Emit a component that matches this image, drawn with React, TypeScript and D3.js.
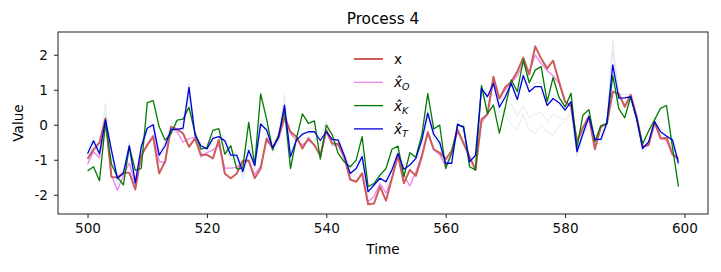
import React, { useRef, useEffect } from 'react';
import * as d3 from 'd3';

// time steps 500..599
const times: number[] = d3.range(500, 600);

const xTrue = [
  -0.98, -0.71, -0.51, 0.18, -1.49, -1.5, -1.37, -1.37, -1.85, -0.87,
  -0.58, -0.34, -1.39, -1.05, -0.06, -0.13, -0.25, -0.63, -0.39, -0.86,
  -0.86, -0.96, -0.43, -1.4, -1.53, -1.39, -1.03, -1.02, -1.53, -1.25,
  -0.39, -0.66, -0.34, 0.23, -0.2, -0.34, -0.68, -0.39, -0.58, -0.88,
  -0.15, -0.53, -0.55, -0.91, -1.56, -1.63, -1.39, -2.27, -2.25, -1.77,
  -2.17, -1.53, -0.87, -1.67, -1.29, -1.46, -0.91, -0.22, -0.7, -0.8,
  -0.98, -0.75, -0.15, -0.53, -0.91, -1.29, 0.15, 0.3, 1.37, 0.75,
  1.08, 1.23, 1.52, 1.92, 1.44, 2.24, 1.89, 1.61, 1.83, 1.23,
  0.66, 0.53, -0.46, -0.08, 0.24, -0.7, -0.05, 0.03, 0.94, 0.89,
  0.51, 0.85, 0.23, -0.63, -0.58, 0.08, -0.39, -0.37, -0.85, -0.96,
];

const xHatO = [
  -1.13, -0.77, -0.95, 0.1, -1.44, -1.87, -1.45, -1.1, -1.7, -0.93,
  -0.55, -0.3, -1.05, -1.09, -0.09, -0.2, -0.5, -0.4, -0.35, -0.92,
  -0.8, -0.72, -0.58, -1.24, -1.24, -1.22, -1.05, -1.05, -1.42, -1.18,
  -0.47, -0.63, -0.4, 0.15, -0.25, -0.44, -0.58, -0.44, -0.58, -0.91,
  -0.2, -0.58, -0.6, -0.96, -1.58, -1.63, -1.39, -2.2, -2.05, -1.68,
  -1.95, -1.53, -0.91, -1.44, -1.75, -1.35, -0.86, -0.18, -0.72, -0.85,
  -1.2, -0.8, -0.18, -0.55, -0.95, -1.25, 0.05, 0.3, 1.25, 0.75,
  1.0, 1.2, 1.4, 1.75, 1.5, 1.99, 1.75, 1.55, 1.4, 1.18,
  0.66, 0.55, -0.5, -0.1, 0.2, -0.66, -0.08, 0.03, 0.96, 0.88,
  0.55, 0.85, 0.2, -0.63, -0.55, 0.07, -0.38, -0.45, -0.85, -1.0,
];

const xHatK = [
  -1.32, -1.2, -1.6, 0.04, -1.12, -1.49, -1.72, -0.63, -1.3, -1.25,
  0.63, 0.69, -0.06, -0.44, -0.25, 0.13, 0.16, 0.5, -0.23, -0.7,
  -0.65, -0.16, -0.11, -0.84, -0.6, -1.26, -1.24, 0.07, -1.16, 0.88,
  0.16, -0.72, -0.3, 0.42, -1.25, -0.39, 0.31, 0.04, 0.11, -0.98,
  -0.01, -0.29, -0.82, -1.06, -1.2, -1.01, -0.34, -1.77, -1.68, -1.44,
  -1.25, -0.7, -0.61, -1.48, -0.8, -0.93, -0.29, 0.89, -0.12, -0.01,
  -1.25, -0.82, -0.01, -0.05, -1.2, -1.29, 1.12, 0.32, 0.56, -0.24,
  0.51, 1.28, 0.95, 1.85, 1.2, 1.56, 1.66, 0.66, 1.35, 0.78,
  0.51, 0.9, -0.65, 0.28, 0.43, -0.48, -0.03, 0.03, 1.4, 0.46,
  0.2, 0.8, 0.16, -0.55, -0.18, 0.14, 0.47, 0.55, -0.65, -1.77,
];

const xHatT = [
  -0.83, -0.46, -0.83, 0.14, -0.72, -1.53, -1.39, -0.6, -1.66, -0.63,
  -0.1, 0.0, -0.87, -0.6, -0.13, -0.13, -0.1, 1.07, -0.29, -0.6,
  -0.69, -0.39, -0.34, -0.46, -0.87, -0.87, -1.34, -0.73, -1.16, 0.02,
  -0.15, -0.66, -0.36, 0.56, -0.91, -0.44, -0.27, -0.2, -0.2, -0.45,
  -0.2, -0.42, -0.44, -0.87, -1.39, -1.25, -0.91, -1.91, -1.72, -1.53,
  -1.63, -1.29, -0.82, -1.27, -1.15, -0.96, -0.44, 0.33, -0.27, -0.51,
  -1.1, -1.1, 0.02, -0.08, -1.06, -0.87, 1.04, 0.8, 1.18, 0.5,
  0.8, 1.18, 0.72, 1.4, 0.94, 1.09, 1.09, 0.55, 0.75, 0.63,
  0.42, 0.66, -0.77, -0.25, 0.23, -0.42, -0.42, 0.05, 1.71, 0.76,
  0.77, 0.8, 0.18, -0.68, -0.49, 0.09, -0.2, -0.32, -0.44, -1.1,
];

// faint sample paths behind the estimates
const sampleA = [
  -0.7, -0.35, -0.75, 0.6, -0.8, -1.4, -1.3, -0.5, -1.55, -0.55,
  -0.05, 0.05, -0.75, -0.5, 0.05, 0.1, 0.0, 1.2, -0.2, -0.5,
  -0.55, -0.3, -0.2, -0.35, -0.75, -0.8, -1.2, -0.6, -1.05, 0.15,
  -0.05, -0.55, -0.25, 0.85, -0.8, -0.35, -0.15, -0.1, -0.1, -0.35,
  0.1, -0.3, -0.35, -0.75, -1.25, -1.15, -0.8, -1.8, -1.6, -1.4,
  -1.5, -1.15, -0.7, -1.15, -1.0, -0.85, -0.3, 0.45, -0.15, -0.4,
  -1.0, -1.0, 0.15, 0.05, -0.95, -0.75, 1.15, 0.9, 1.3, 0.6,
  0.9, 1.3, 0.85, 1.5, 1.05, 1.2, 1.2, 0.65, 0.85, 0.75,
  0.5, 0.8, -0.65, -0.15, 0.35, -0.3, -0.3, 0.15, 2.4, 0.9,
  0.85, 0.9, 0.3, -0.55, -0.4, 0.2, -0.1, -0.2, -0.35, -1.0,
];

const sampleB = [
  -0.95, -0.6, -0.95, -0.1, -0.7, -1.7, -1.5, -0.75, -1.8, -0.75,
  -0.25, -0.1, -1.0, -0.7, -0.25, -0.2, -0.2, 0.8, -0.4, -0.7,
  -0.8, -0.5, -0.45, -0.6, -1.0, -1.0, -1.55, -0.85, -1.3, -0.15,
  -0.3, -0.8, -0.5, 0.35, -1.05, -0.55, -0.4, -0.35, -0.35, -0.55,
  -0.3, -0.55, -0.55, -1.0, -1.55, -1.4, -1.05, -2.05, -1.85, -1.7,
  -1.8, -1.45, -0.95, -1.4, -1.3, -1.1, -0.6, 0.2, -0.4, -0.65,
  -1.25, -1.2, -0.1, -0.2, -1.2, -1.0, 0.85, 0.65, 0.9, 0.35,
  0.45, 0.6, 0.25, 0.55, 0.2, 0.3, 0.35, 0.1, 0.3, 0.2,
  0.15, 0.4, -0.9, -0.35, 0.1, -0.55, -0.55, -0.05, 1.5, 0.6,
  0.65, 0.7, 0.05, -0.8, -0.6, -0.05, -0.3, -0.45, -0.55, -1.2,
];

const sampleC = [
  -0.8, -0.5, -0.85, 0.3, -0.9, -1.6, -1.35, -0.65, -1.7, -0.7,
  -0.15, -0.05, -0.9, -0.55, -0.05, 0.0, -0.1, 0.95, -0.3, -0.65,
  -0.65, -0.4, -0.3, -0.5, -0.9, -0.9, -1.45, -0.75, -1.2, 0.05,
  -0.15, -0.7, -0.35, 0.6, -0.95, -0.45, -0.25, -0.25, -0.2, -0.45,
  -0.15, -0.45, -0.45, -0.9, -1.45, -1.3, -0.95, -1.95, -1.75, -1.55,
  -1.65, -1.3, -0.85, -1.3, -1.15, -1.0, -0.45, 0.3, -0.3, -0.55,
  -1.15, -1.1, 0.0, -0.1, -1.1, -0.9, 0.9, 0.55, 0.6, 0.2,
  0.3, 0.0, -0.15, 0.3, -0.15, -0.25, 0.0, -0.2, -0.3, -0.05,
  0.1, 0.3, -0.8, -0.3, 0.2, -0.45, -0.45, 0.05, 2.1, 0.8,
  0.75, 0.8, 0.15, -0.7, -0.5, 0.1, -0.2, -0.35, -0.45, -1.15,
];

const xTicks = [500, 520, 540, 560, 580, 600];
const yTicks = [-2, -1, 0, 1, 2];

function App() {
  const canvas = useRef<HTMLDivElement>(null);

  useEffect(() => {
    document.body.style.margin = '0';
    const width = 721;
    const height = 272;
    const m = { top: 32, right: 13, bottom: 58, left: 58 };
    const font = "'DejaVu Sans', sans-serif";

    d3.select(canvas.current).select('svg').remove();
    const svg = d3.select(canvas.current)
      .append('svg')
      .attr('width', width)
      .attr('height', height)
      .style('display', 'block')
      .style('font-family', font);

    svg.append('rect').attr('width', width).attr('height', height).attr('fill', 'white');

    // matplotlib style 5% margins
    const x = d3.scaleLinear().domain([495.05, 603.95]).range([m.left, width - m.right]);
    const y = d3.scaleLinear().domain([-2.55, 2.65]).range([height - m.bottom, m.top]);

    const line = d3.line<number>()
      .x((_, i) => x(times[i]))
      .y((d) => y(d));

    const plot = svg.append('g');

    [sampleA, sampleB, sampleC].forEach((s) => {
      plot.append('path')
        .attr('d', line(s))
        .attr('fill', 'none')
        .attr('stroke', '#b0c4de')
        .attr('stroke-opacity', 0.45)
        .attr('stroke-width', 0.8);
    });

    const series = [
      { data: xHatO, color: '#ee82ee', w: 1.3 },
      { data: xTrue, color: '#cd5c5c', w: 2 },
      { data: xHatK, color: '#007a00', w: 1.3 },
      { data: xHatT, color: '#0000dd', w: 1.3 },
    ];
    series.forEach((s) => {
      plot.append('path')
        .attr('d', line(s.data))
        .attr('fill', 'none')
        .attr('stroke', s.color)
        .attr('stroke-width', s.w)
        .attr('stroke-linejoin', 'round');
    });

    // frame
    svg.append('rect')
      .attr('x', m.left)
      .attr('y', m.top)
      .attr('width', width - m.left - m.right)
      .attr('height', height - m.top - m.bottom)
      .attr('fill', 'none')
      .attr('stroke', '#222')
      .attr('stroke-width', 1);

    const xAxis = svg.append('g')
      .attr('transform', `translate(0,${height - m.bottom})`)
      .call(d3.axisBottom(x).tickValues(xTicks).tickSize(4).tickPadding(5).tickFormat(d3.format('d')));
    xAxis.select('.domain').remove();
    xAxis.selectAll('text').attr('font-size', 13.6).attr('font-family', font).attr('fill', '#111');
    xAxis.selectAll('line').attr('stroke', '#222');

    const yAxis = svg.append('g')
      .attr('transform', `translate(${m.left},0)`)
      .call(d3.axisLeft(y).tickValues(yTicks).tickSize(4).tickPadding(6).tickFormat(d3.format('d')));
    yAxis.select('.domain').remove();
    yAxis.selectAll('text').attr('font-size', 13.6).attr('font-family', font).attr('fill', '#111')
      .text((d: any) => (d < 0 ? '-' + Math.abs(d) : String(d)));
    yAxis.selectAll('line').attr('stroke', '#222');

    svg.append('text')
      .attr('x', (m.left + width - m.right) / 2)
      .attr('y', 24)
      .attr('text-anchor', 'middle')
      .attr('font-size', 15.3)
      .text('Process 4');

    svg.append('text')
      .attr('x', (m.left + width - m.right) / 2)
      .attr('y', 254)
      .attr('text-anchor', 'middle')
      .attr('font-size', 13.6)
      .text('Time');

    svg.append('text')
      .attr('transform', `translate(23,${(m.top + height - m.bottom) / 2}) rotate(-90)`)
      .attr('text-anchor', 'middle')
      .attr('font-size', 13.6)
      .text('Value');

    // legend
    const legend = [
      { color: '#cd5c5c', w: 2, sub: '' },
      { color: '#ee82ee', w: 1.3, sub: 'O' },
      { color: '#007a00', w: 1.3, sub: 'K' },
      { color: '#0000dd', w: 1.3, sub: 'T' },
    ];
    const lg = svg.append('g').attr('transform', 'translate(354,59)');
    legend.forEach((l, i) => {
      const row = lg.append('g').attr('transform', `translate(0,${i * 23.3})`);
      row.append('line')
        .attr('x1', 0).attr('x2', 29)
        .attr('stroke', l.color).attr('stroke-width', l.w);
      const t = row.append('text')
        .attr('x', 40)
        .attr('y', 5)
        .attr('font-size', 13.6);
      if (l.sub === '') {
        t.text('x');
      } else {
        t.append('tspan').attr('font-style', 'italic').text('x\u0302');
        t.append('tspan').attr('font-style', 'italic').attr('font-size', 9.5).attr('dy', 3).text(l.sub);
      }
    });
  }, []);

  return <div ref={canvas}></div>;
}

export default App;
